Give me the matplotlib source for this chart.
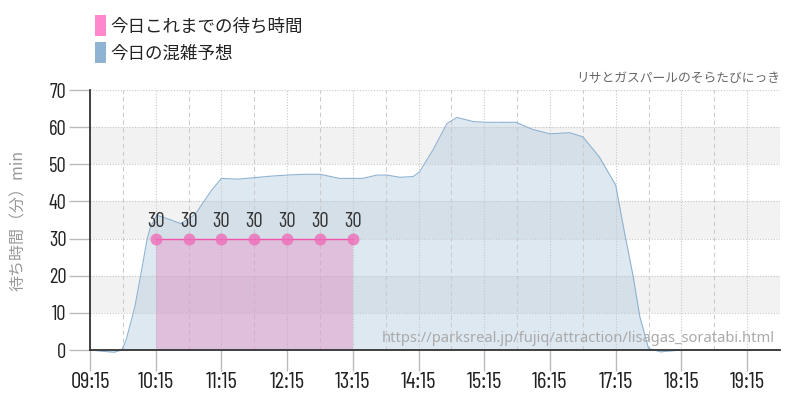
import matplotlib
matplotlib.use("Agg")
import matplotlib.pyplot as plt
from matplotlib import font_manager
from matplotlib.patches import Patch
import datetime as dt

# ---------------- data ----------------
forecast_times = ["09:15", "09:25", "09:37", "09:44", "09:48", "09:56", "10:01", "10:07",
                  "10:10", "10:16", "10:29", "10:38", "10:51", "11:06", "11:15", "11:30",
                  "11:45", "12:00", "12:15", "12:30", "12:45", "13:03", "13:24", "13:37",
                  "13:46", "13:58", "14:10", "14:16", "14:28", "14:41", "14:50", "15:05",
                  "15:17", "15:44", "15:59", "16:15", "16:33", "16:45", "17:00", "17:15",
                  "17:22", "17:31", "17:37", "17:45", "17:56", "18:15", "19:45"]
forecast_values = [0, -0.3, -0.6, 0, 2.7, 11.7, 19.7, 29.6,
                   33.0, 36.3, 35.0, 34.0, 36.5, 43.0, 46.2, 46.0,
                   46.4, 46.8, 47.1, 47.3, 47.3, 46.2, 46.2, 47.1,
                   47.1, 46.5, 46.7, 48.0, 53.8, 61.0, 62.6, 61.5,
                   61.3, 61.3, 59.4, 58.2, 58.5, 57.4, 52.0, 44.4,
                   33.2, 19.7, 9.0, 0.4, -0.5, 0, 0]

wait_times = ["10:15", "10:45", "11:15", "11:45", "12:15", "12:45", "13:15"]
wait_values = [30, 30, 30, 30, 30, 30, 30]

xtick_labels = ["09:15", "10:15", "11:15", "12:15", "13:15", "14:15",
                "15:15", "16:15", "17:15", "18:15", "19:15"]
minor_ticks = ["09:45", "10:45", "11:45", "12:45", "13:45", "14:45",
               "15:45", "16:45", "17:45", "18:45", "19:45"]
x_start, x_end = "09:15", "19:45"

legend_labels = ["今日これまでの待ち時間", "今日の混雑予想"]
ylabel_text = "待ち時間（分）min"
credit_text = "リサとガスパールのそらたびにっき"
url_text = "https://parksreal.jp/fujiq/attraction/lisagas_soratabi.html"

# ---------------- fonts ----------------
available = {f.name for f in font_manager.fontManager.ttflist}
def pick(cands):
    for c in cands:
        if c in available:
            return c
    return "DejaVu Sans"
cond_font = pick(["Barlow Condensed", "Roboto Condensed", "Liberation Sans Narrow", "DejaVu Sans"])
cond_weight = "normal"
plt.rcParams["font.family"] = ["Noto Sans CJK JP", "DejaVu Sans"]

def T(s):
    return dt.datetime.strptime("2024-01-01 " + s, "%Y-%m-%d %H:%M")

fx = [T(s) for s in forecast_times]
wx = [T(s) for s in wait_times]

fig = plt.figure(figsize=(8, 4), dpi=100)
ax = fig.add_axes([90/800, 50/400, 690/800, 260/400])

for lo in (10, 30, 50):
    ax.axhspan(lo, lo + 10, color="#f2f2f2", zorder=0, lw=0)

ax.fill_between(fx, forecast_values, 0, color="#97b5d2", alpha=0.31, lw=0, zorder=2, clip_on=False)
ax.plot(fx, forecast_values, color="#8fb3d3", lw=0.8, zorder=3, clip_on=False)

ax.fill_between(wx, wait_values, 0, color="#e088c1", alpha=0.42, lw=0, zorder=4)
ax.plot(wx, wait_values, color="#ee55aa", lw=1.0, zorder=5)
ax.plot(wx, wait_values, "o", ms=8.6, color="#ee6eb9", alpha=0.8, mec="none", zorder=6)
for t, v in zip(wx, wait_values):
    ax.annotate(str(v), (t, v), xytext=(0, 8.6), textcoords="offset points",
                ha="center", va="baseline", fontsize=14.8, color="#333333",
                family=cond_font, weight=cond_weight, zorder=7)

ax.set_xlim(T(x_start), T(x_end))
ax.set_ylim(0, 70)

ax.set_xticks([T(s) for s in xtick_labels])
ax.set_xticklabels(xtick_labels)
ax.set_xticks([T(s) for s in minor_ticks], minor=True)
ax.set_yticks(range(0, 71, 10))

for lab in ax.get_xticklabels():
    lab.set_family(cond_font); lab.set_fontsize(16.5); lab.set_color("#222222"); lab.set_weight(cond_weight)
for lab in ax.get_yticklabels():
    lab.set_family(cond_font); lab.set_fontsize(14.8); lab.set_color("#222222"); lab.set_weight(cond_weight)

ax.tick_params(axis="x", which="major", length=15, width=1, color="#bbbbbb", pad=1)
ax.tick_params(axis="x", which="minor", length=0)
ax.tick_params(axis="y", which="major", length=15, width=1, color="#bbbbbb", pad=2)

ax.grid(axis="y", which="major", color="#c8c8c8", linestyle=(0, (1, 1.5)), lw=0.8, zorder=1)
ax.grid(axis="x", which="major", color="#c8c8c8", linestyle=(0, (1, 1.5)), lw=0.8, zorder=1)
ax.grid(axis="x", which="minor", color="#cccccc", linestyle=(0, (4, 3)), lw=0.8, zorder=1)
ax.set_axisbelow(False)

for s in ("top", "right"):
    ax.spines[s].set_visible(False)
for s in ("left", "bottom"):
    ax.spines[s].set_color("#333333")
    ax.spines[s].set_linewidth(1.3)
    ax.spines[s].set_zorder(8)

ax.set_ylabel(ylabel_text, color="#999999", fontsize=11.5)
ax.yaxis.set_label_coords(-0.092, 0.5)

fig.text(780/800, 1 - 78/400, credit_text, ha="right", va="center", fontsize=9.2, color="#666666")
ax.text(0.992, 0.045, url_text, transform=ax.transAxes, ha="right", va="center",
        fontsize=10.6, color="#aaaaaa", family=["Noto Sans", "DejaVu Sans"], zorder=9)

handles = [Patch(facecolor="#ff88cc", edgecolor="none"),
           Patch(facecolor="#8fb3d3", edgecolor="none")]
fig.legend(handles, legend_labels, loc="upper left", bbox_to_anchor=(95/800, 1 - 15/400),
           frameon=False, fontsize=12.6, handlelength=0.63, handleheight=1.49,
           handletextpad=0.25, labelspacing=0.34, borderpad=0, borderaxespad=0,
           labelcolor="#222222")

fig.savefig("out.png", dpi=100)
